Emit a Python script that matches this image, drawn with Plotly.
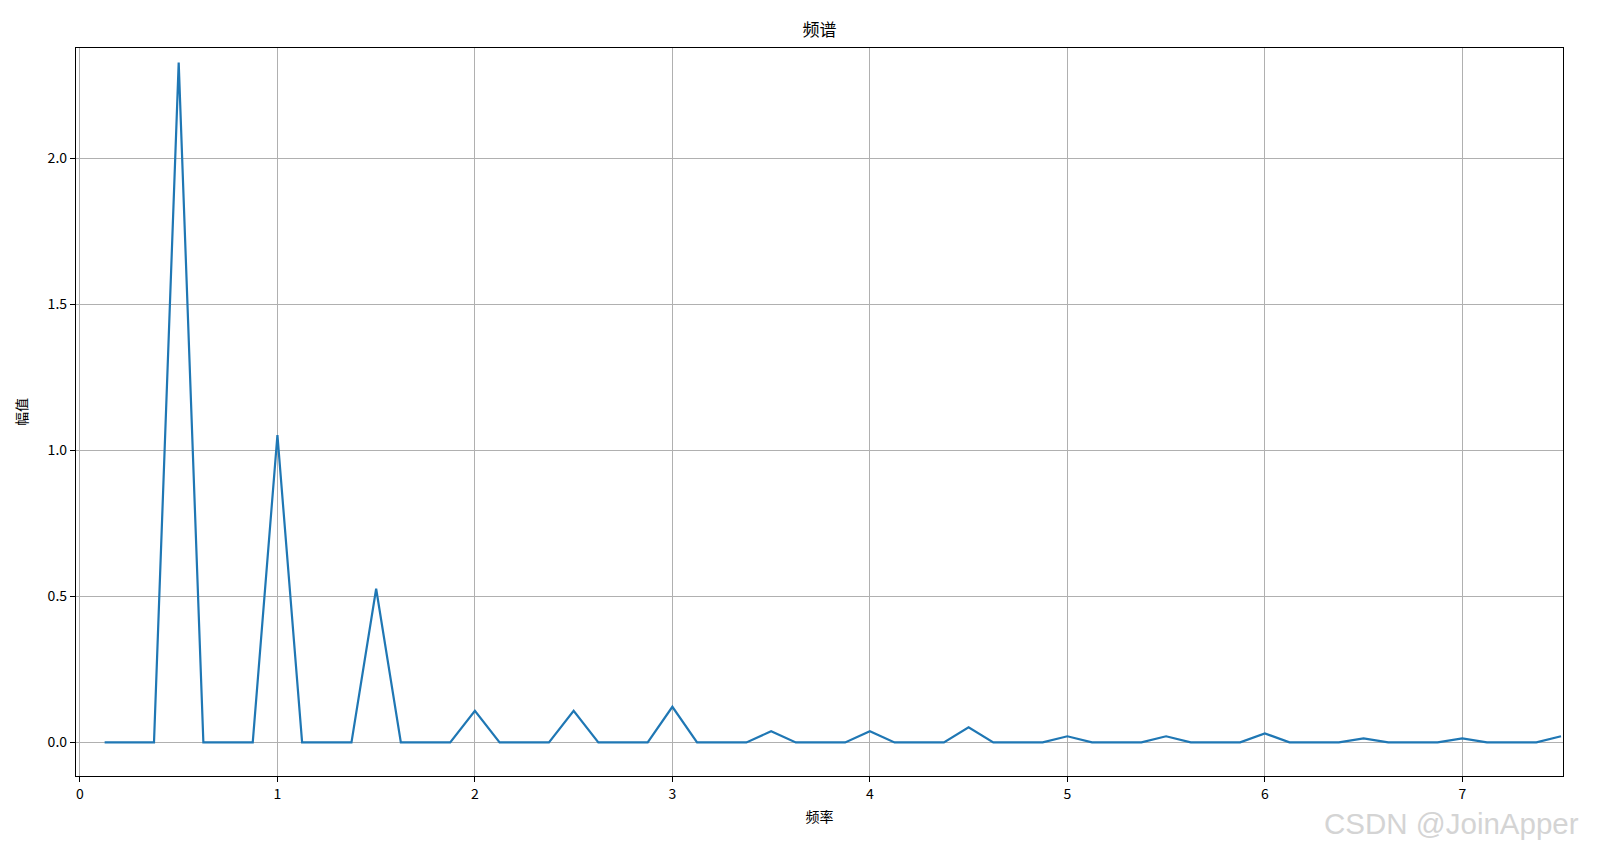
import plotly.graph_objects as go

freq = [0.125, 0.25, 0.375, 0.5, 0.625, 0.75, 0.875, 1.0,
        1.125, 1.25, 1.375, 1.5, 1.625, 1.75, 1.875, 2.0,
        2.125, 2.25, 2.375, 2.5, 2.625, 2.75, 2.875, 3.0,
        3.125, 3.25, 3.375, 3.5, 3.625, 3.75, 3.875, 4.0,
        4.125, 4.25, 4.375, 4.5, 4.625, 4.75, 4.875, 5.0,
        5.125, 5.25, 5.375, 5.5, 5.625, 5.75, 5.875, 6.0,
        6.125, 6.25, 6.375, 6.5, 6.625, 6.75, 6.875, 7.0,
        7.125, 7.25, 7.375, 7.5]
amp = [0, 0, 0, 2.327, 0, 0, 0, 1.052,
       0, 0, 0, 0.526, 0, 0, 0, 0.108,
       0, 0, 0, 0.108, 0, 0, 0, 0.122,
       0, 0, 0, 0.038, 0, 0, 0, 0.038,
       0, 0, 0, 0.052, 0, 0, 0, 0.021,
       0, 0, 0, 0.021, 0, 0, 0, 0.031,
       0, 0, 0, 0.014, 0, 0, 0, 0.014,
       0, 0, 0, 0.021]
x_ticks = [0, 1, 2, 3, 4, 5, 6, 7]
y_ticks = [0.0, 0.5, 1.0, 1.5, 2.0]

FONT = "SimHei, Noto Sans CJK SC, DejaVu Sans, sans-serif"

# page body has an 8px margin: shrink the figure so the plot area lands
# where the reference has it
OFF = 8
W, H = 1597 - 2 * OFF, 849 - 2 * OFF

fig = go.Figure()
fig.add_trace(go.Scatter(x=freq, y=amp, mode="lines",
                         line=dict(color="#1f77b4", width=2.2), showlegend=False))

axis_common = dict(showline=True, linecolor="black", linewidth=1.3, mirror=True,
                   ticks="outside", ticklen=5, tickcolor="black", tickwidth=1,
                   showgrid=True, gridcolor="#b0b0b0", gridwidth=1, zeroline=False,
                   automargin=False,
                   tickfont=dict(family=FONT, size=14, color="black"))

fig.update_layout(
    width=W, height=H,
    margin=dict(l=76 - OFF, r=OFF + W - 1563, t=48 - OFF, b=OFF + H - 776),
    paper_bgcolor="white", plot_bgcolor="white",
    title=dict(text="频谱", xref="paper", x=0.5, xanchor="center",
               y=1 - (30 - OFF) / H, yanchor="middle",
               font=dict(family=FONT, size=17, color="black")),
    font=dict(family=FONT, color="black"),
)
fig.update_xaxes(range=[-0.02, 7.51], tickvals=x_ticks,
                 title=dict(text="频率", font=dict(family=FONT, size=14), standoff=10),
                 **axis_common)
fig.update_yaxes(range=[-0.115, 2.377], tickvals=y_ticks, tickformat=".1f",
                 title=dict(text="幅值", font=dict(family=FONT, size=14), standoff=16),
                 **axis_common)

fig.add_annotation(text="CSDN @JoinApper", xref="paper", yref="paper",
                   x=(1322 - 76) / 1487, y=-(823 - 776) / 728, xanchor="left", yanchor="middle",
                   showarrow=False,
                   font=dict(family="Liberation Sans Narrow, Liberation Sans, sans-serif",
                             size=29.5, color="#d4d4d4"))

fig.write_html("out.html")
